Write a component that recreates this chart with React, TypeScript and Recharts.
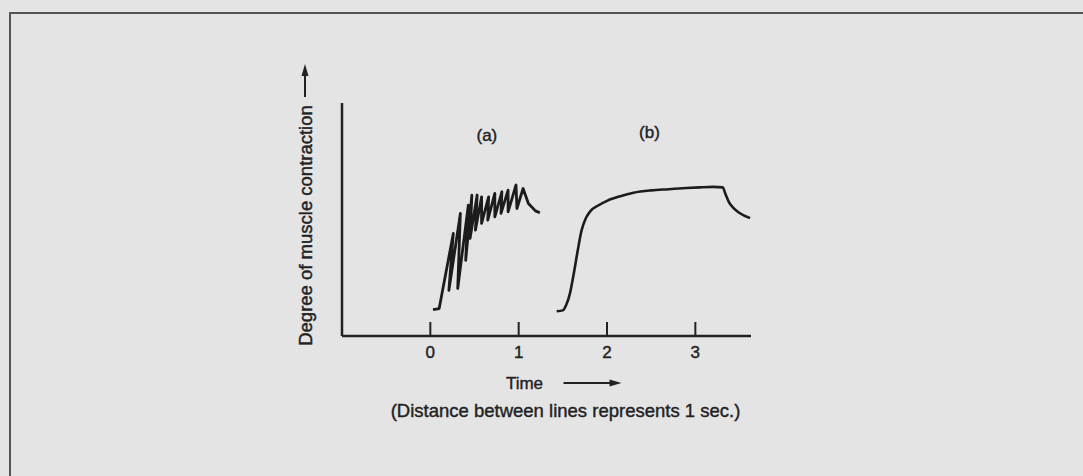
import React from "react";
import {
  LineChart,
  Line,
  XAxis,
  YAxis,
  ReferenceDot,
} from "recharts";

//========== Data ==========
// (a) twitches fusing into incomplete tetanus
const tetanusTime = [
  0.03, 0.1, 0.26, 0.21, 0.34, 0.31, 0.43, 0.4, 0.47, 0.45, 0.53, 0.51, 0.58,
  0.58, 0.66, 0.65, 0.73, 0.73, 0.81, 0.8, 0.88, 0.88, 0.97, 0.98, 1.05, 1.11,
  1.19, 1.24,
];
const tetanusLevel = [
  11.3, 11.8, 44, 19.6, 52.6, 20.4, 56.2, 32.5, 60.5, 41.9, 60.5, 45.4, 59.7,
  48.3, 59.7, 49.7, 61.2, 51.1, 61.9, 52.6, 62.6, 53.3, 64.8, 54.7, 63.3, 56.9,
  53.7, 52.9,
];

// (b) complete (fused) tetanus
const fusedTime = [
  1.43, 1.5, 1.54, 1.58, 1.62, 1.67, 1.71, 1.76, 1.81, 1.9, 2.0, 2.15, 2.3, 2.5,
  2.7, 2.9, 3.05, 3.2, 3.31, 3.34, 3.38, 3.43, 3.5, 3.62,
];
const fusedLevel = [
  10.6, 11, 13.5, 18.2, 26, 37, 45, 50.5, 53.5, 56, 58, 60, 61.5, 62.5, 63,
  63.5, 63.8, 64, 63.8, 61, 57.5, 55, 52.8, 50.6,
];

const timeTicks = [0, 1, 2, 3];

const tetanusData = tetanusTime.map((t, i) => ({ t, v: tetanusLevel[i] }));
const fusedData = fusedTime.map((t, i) => ({ t, v: fusedLevel[i] }));

const FONT = '"Liberation Sans", Arial, Helvetica, sans-serif';
const INK = "#222";

//========== Tick: short mark rising from the axis, number below ==========
const TimeTick = (props: any) => {
  const { x, y, payload } = props;
  return (
    <g>
      <line x1={x} y1={y} x2={x} y2={y - 14} stroke={INK} strokeWidth={2} />
      <text
        x={x}
        y={y + 22}
        textAnchor="middle"
        fontFamily={FONT}
        fontSize={17}
        fill={INK}
        stroke={INK}
        strokeWidth={0.4}
      >
        {payload.value}
      </text>
    </g>
  );
};

//========== Y label with upward arrow ==========
const YLabel = (props: any) => {
  const { viewBox } = props;
  const cx = viewBox.x + viewBox.width - 30;
  const cy = viewBox.y + viewBox.height / 2 + 6;
  const ax = cx - 7;
  return (
    <g>
      <text
        x={cx}
        y={cy}
        transform={`rotate(-90, ${cx}, ${cy})`}
        textAnchor="middle"
        fontFamily={FONT}
        fontSize={18.5}
        fill={INK}
        stroke={INK}
        strokeWidth={0.45}
      >
        Degree of muscle contraction
      </text>
      <line x1={ax} y1={viewBox.y - 6} x2={ax} y2={viewBox.y - 30} stroke={INK} strokeWidth={2} />
      <polygon
        points={`${ax},${viewBox.y - 39} ${ax - 3.5},${viewBox.y - 27} ${ax + 3.5},${viewBox.y - 27}`}
        fill={INK}
      />
    </g>
  );
};

//========== X label: "Time ->" plus note ==========
const XLabel = (props: any) => {
  const { viewBox } = props;
  const top = viewBox.y;
  const mid = viewBox.x + viewBox.width / 2;
  return (
    <g fontFamily={FONT} fill={INK}>
      <text x={mid - 22} y={top + 53} textAnchor="middle" fontSize={17} stroke={INK} strokeWidth={0.4}>
        Time
      </text>
      <line x1={mid + 17} y1={top + 47} x2={mid + 64} y2={top + 47} stroke={INK} strokeWidth={2} />
      <polygon
        points={`${mid + 75},${top + 47} ${mid + 63},${top + 43.5} ${mid + 63},${top + 50.5}`}
        fill={INK}
      />
      <text x={mid + 19} y={top + 81} textAnchor="middle" fontSize={18.5} stroke={INK} strokeWidth={0.4}>
        (Distance between lines represents 1 sec.)
      </text>
    </g>
  );
};

//========== Chart ==========
const App: React.FC = () => {
  return (
    <div
      style={{
        position: "absolute",
        left: 0,
        top: 0,
        width: 1083,
        height: 476,
        background: "#e4e4e4",
        overflow: "hidden",
      }}
    >
      {/*========== Page frame ==========*/}
      <div
        style={{
          position: "absolute",
          left: 9,
          top: 12,
          width: 1100,
          height: 500,
          borderTop: "2px solid #555",
          borderLeft: "2px solid #555",
        }}
      />

      <LineChart
        width={1083}
        height={476}
        margin={{ top: 103, right: 332, bottom: 110, left: 332 }}
        style={{ position: "absolute", left: 0, top: 0 }}
      >
        <XAxis
          type="number"
          dataKey="t"
          domain={[-1, 3.63]}
          allowDataOverflow
          ticks={timeTicks}
          tickLine={false}
          tickSize={0}
          tickMargin={0}
          tick={<TimeTick />}
          axisLine={{ stroke: INK, strokeWidth: 2.5 }}
          height={30}
          label={<XLabel />}
        />
        <YAxis
          type="number"
          domain={[0, 100]}
          allowDataOverflow
          width={10}
          tick={false}
          tickLine={false}
          axisLine={{ stroke: INK, strokeWidth: 2.5 }}
          label={<YLabel />}
        />

        <Line
          data={tetanusData}
          dataKey="v"
          type="linear"
          stroke="#1c1c1c"
          strokeWidth={2.8}
          strokeLinejoin="round"
          dot={false}
          isAnimationActive={false}
        />
        <Line
          data={fusedData}
          dataKey="v"
          type="monotone"
          stroke="#1c1c1c"
          strokeWidth={2.6}
          dot={false}
          isAnimationActive={false}
        />

        <ReferenceDot
          x={0.64}
          y={86.2}
          r={0}
          fill="none"
          stroke="none"
          label={{ value: "(a)", position: "center", fontFamily: FONT, fontSize: 17, fill: INK, stroke: INK, strokeWidth: 0.4 }}
        />
        <ReferenceDot
          x={2.48}
          y={87.5}
          r={0}
          fill="none"
          stroke="none"
          label={{ value: "(b)", position: "center", fontFamily: FONT, fontSize: 17, fill: INK, stroke: INK, strokeWidth: 0.4 }}
        />
      </LineChart>
    </div>
  );
};

export default App;
